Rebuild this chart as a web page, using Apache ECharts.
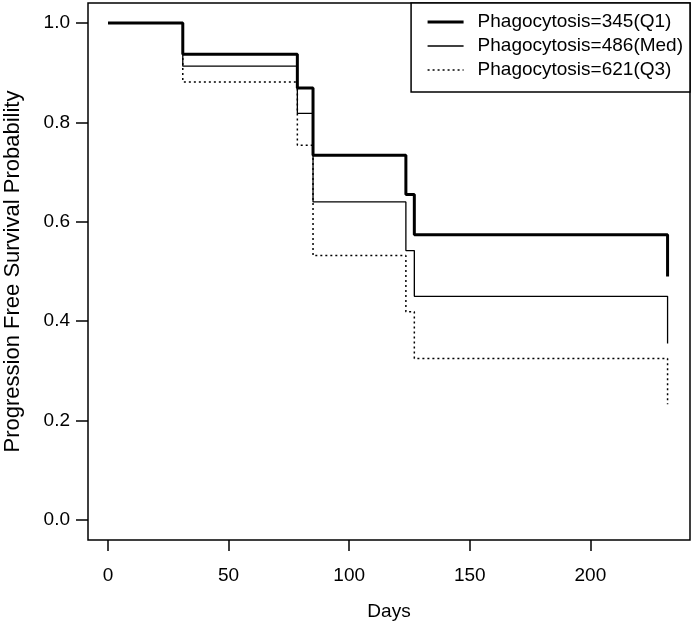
<!DOCTYPE html>
<html>
<head>
<meta charset="utf-8">
<script src="https://cdn.jsdelivr.net/npm/echarts@6/dist/echarts.min.js"></script>
<style>html,body{margin:0;padding:0;background:#fff}#c{width:694px;height:631px}</style>
</head>
<body>
<div id="c"></div>
<script>
const days = [0, 31, 78.5, 85, 123.5, 127, 232];
const seriesNames = ['Phagocytosis=345(Q1)', 'Phagocytosis=486(Med)', 'Phagocytosis=621(Q3)'];
const survQ1 = [1, 0.937, 0.869, 0.734, 0.655, 0.574, 0.49];
const survMed = [1, 0.913, 0.818, 0.64, 0.542, 0.45, 0.355];
const survQ3 = [1, 0.881, 0.754, 0.532, 0.419, 0.325, 0.233];
const xTicks = [0, 50, 100, 150, 200];
const yTicks = [0, 0.2, 0.4, 0.6, 0.8, 1.0];

const FONT = "'Liberation Sans', Arial, sans-serif";
const pair = (ys) => days.map((d, i) => [d, ys[i]]);
const styles = [
  {width: 3, type: 'solid'},
  {width: 1.3, type: 'solid'},
  {width: 1.5, type: [2, 3]}
];

const chart = echarts.init(document.getElementById('c'), null, {renderer: 'canvas'});
const mk = (i, ys) => ({
  name: seriesNames[i], type: 'line', step: 'end', data: pair(ys), symbol: 'none', showSymbol: false,
  lineStyle: {color: '#000', width: styles[i].width, type: styles[i].type}, itemStyle: {color: '#000'}, silent: true
});
chart.setOption({
  animation: false,
  backgroundColor: '#fff',
  grid: {left: 88, right: 4, top: 3, bottom: 91, show: true, borderColor: '#000', borderWidth: 1.5,
    backgroundColor: 'transparent', containLabel: false, outerBoundsMode: 'none'},
  xAxis: {
    type: 'value', min: -8.3, max: 241.3,
    axisLine: {show: false, onZero: false},
    axisTick: {show: true, length: 11, lineStyle: {color: '#000', width: 1.5}, customValues: xTicks},
    axisLabel: {color: '#000', fontFamily: FONT, fontSize: 19, margin: 26, customValues: xTicks},
    splitLine: {show: false},
    name: 'Days', nameLocation: 'middle', nameGap: 62,
    nameTextStyle: {color: '#000', fontFamily: FONT, fontSize: 19}
  },
  yAxis: {
    type: 'value', min: -0.04, max: 1.04,
    axisLine: {show: false, onZero: false},
    axisTick: {show: true, length: 12, lineStyle: {color: '#000', width: 1.5}, customValues: yTicks},
    axisLabel: {color: '#000', fontFamily: FONT, fontSize: 19, margin: 18, customValues: yTicks,
      formatter: v => v.toFixed(1)},
    splitLine: {show: false},
    name: 'Progression Free Survival Probability', nameLocation: 'middle', nameGap: 64, nameRotate: 90,
    nameTextStyle: {color: '#000', fontFamily: FONT, fontSize: 22}
  },
  legend: {
    orient: 'vertical', right: 4, top: 3,
    data: seriesNames.map((n, i) => ({name: n, lineStyle: {width: styles[i].width, type: styles[i].type, color: '#000'}})),
    itemWidth: 36, itemHeight: 14, itemGap: 0,
    padding: [7, 7, 10, 15],
    itemStyle: {opacity: 0},
    borderColor: '#000', borderWidth: 1.5, backgroundColor: '#fff',
    textStyle: {color: '#000', fontFamily: FONT, fontSize: 19, lineHeight: 24, padding: [0, 0, 0, 9]},
    selectedMode: false
  },
  series: [
    mk(0, survQ1),
    mk(1, survMed),
    mk(2, survQ3)
  ]
});
</script>
</body>
</html>
